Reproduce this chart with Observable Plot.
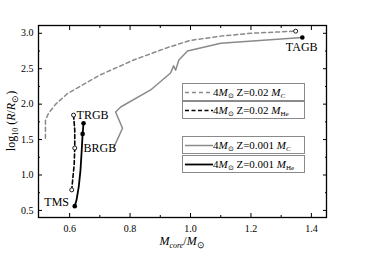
<!DOCTYPE html>
<html><head><meta charset="utf-8">
<script src="https://cdn.jsdelivr.net/npm/d3@7"></script>
<script src="https://cdn.jsdelivr.net/npm/@observablehq/plot@0.6"></script>
<style>
body{margin:0;background:#fff}
#wrap{position:relative;width:384px;height:256px;font-family:"Liberation Serif","Times New Roman",serif;color:#000}
#wrap svg text{font-family:"Liberation Serif","Times New Roman",serif !important}
.lg{position:absolute;left:182px;width:121px;height:16px;border:1px solid #8a8a8a;background:#fff;font-size:11px;line-height:16px;white-space:nowrap}
.lg svg{position:absolute;left:2px;top:0}
.lg span.t{position:absolute;left:30px;top:0}
.lg sub{font-size:7px;vertical-align:-2px;line-height:0}
</style></head>
<body><div id="wrap"></div>
<script>
// Z=0.02, carbon-oxygen core mass (gray dashed)
const z02cMass = [0.520,0.520,0.530,0.554,0.593,0.700,0.810,0.925,1.000,1.100,1.200,1.348];
const z02cLogR = [1.52,1.77,1.87,2.00,2.15,2.41,2.62,2.80,2.90,2.96,3.00,3.03];
// Z=0.02, helium core mass (black dashed)
const z02hMass = [0.613,0.617,0.617,0.615,0.610,0.607];
const z02hLogR = [1.845,1.63,1.38,1.14,0.93,0.79];
// Z=0.001, carbon-oxygen core mass (gray solid)
const z001cMass = [0.745,0.775,0.752,0.769,0.868,0.934,0.944,0.951,0.961,0.990,1.100,1.370];
const z001cLogR = [1.38,1.66,1.89,1.96,2.20,2.44,2.54,2.48,2.62,2.75,2.86,2.94];
// Z=0.001, helium core mass (black solid)
const z001hMass = [0.617,0.623,0.630,0.636,0.640,0.643,0.646];
const z001hLogR = [0.56,0.65,0.83,1.07,1.35,1.58,1.73];
// marked evolutionary points
const openMass = [0.613,0.617,0.607,1.348];
const openLogR = [1.845,1.38,0.79,3.03];
const filledMass = [0.646,0.643,0.617,1.370];
const filledLogR = [1.73,1.58,0.56,2.94];
// stage labels
const stageNames = ["TRGB","BRGB","TMS","TAGB"];
const stageMass = [0.623,0.646,0.598,1.368];
const stageLogR = [1.845,1.38,0.62,2.80];
// ticks
const xMajor = [0.6,0.8,1.0,1.2,1.4];
const xMinor = [0.7,0.9,1.1,1.3];
const yMajor = [0.5,1.0,1.5,2.0,2.5,3.0];
const yMinor = [0.75,1.25,1.75,2.25,2.75];
// legend
const legendLabels = [["0.02","C"],["0.02","He"],["0.001","C"],["0.001","He"]];

const tbl = (m, r) => m.map((v, i) => ({m: v, r: r[i]}));
const z02c = tbl(z02cMass, z02cLogR), z02h = tbl(z02hMass, z02hLogR);
const z001c = tbl(z001cMass, z001cLogR), z001h = tbl(z001hMass, z001hLogR);
const opens = tbl(openMass, openLogR), filled = tbl(filledMass, filledLogR);
const stages = stageNames.map((n, i) => ({n, m: stageMass[i], r: stageLogR[i]}));

const GRAY = "#8a8a8a";
const SERIF = "'Liberation Serif', 'Times New Roman', serif";
const chart = Plot.plot({
  width: 384, height: 256,
  marginLeft: 38, marginRight: 58, marginTop: 25, marginBottom: 39,
  style: {fontFamily: SERIF, fontSize: "10px", background: "white", color: "black", overflow: "visible"},
  x: {domain: [0.497, 1.45], label: null},
  y: {domain: [0.40, 3.11], label: null},
  marks: [
    Plot.line(z02c, {x: "m", y: "r", stroke: GRAY, strokeWidth: 1.5, strokeDasharray: "4,3"}),
    Plot.line(z001c, {x: "m", y: "r", stroke: GRAY, strokeWidth: 1.5}),
    Plot.line(z02h, {x: "m", y: "r", stroke: "black", strokeWidth: 1.6, strokeDasharray: "4,2.5"}),
    Plot.line(z001h, {x: "m", y: "r", stroke: "black", strokeWidth: 1.8}),
    Plot.dot(opens, {x: "m", y: "r", r: 2, stroke: "black", strokeWidth: 0.9, fill: "white"}),
    Plot.dot(filled, {x: "m", y: "r", r: 2.3, fill: "black"}),
    Plot.text(stages.filter(d => d.n !== "TMS" && d.n !== "TAGB"), {x: "m", y: "r", text: "n", textAnchor: "start", fontSize: 12, fontFamily: SERIF}),
    Plot.text(stages.filter(d => d.n === "TMS"), {x: "m", y: "r", text: "n", textAnchor: "end", fontSize: 12, fontFamily: SERIF}),
    Plot.text(stages.filter(d => d.n === "TAGB"), {x: "m", y: "r", text: "n", textAnchor: "middle", fontSize: 12, fontFamily: SERIF}),
    Plot.axisX(xMajor, {anchor: "bottom", tickSize: 0, tickPadding: 7, tickFormat: d3.format(".1f"), label: null, fontFamily: SERIF}),
    Plot.axisY(yMajor, {anchor: "left", tickSize: 0, tickPadding: 5, tickFormat: d3.format(".1f"), label: null, fontFamily: SERIF}),
    Plot.axisX(xMajor, {anchor: "bottom", tickSize: -4, text: null, label: null}),
    Plot.axisX(xMajor, {anchor: "top", tickSize: -4, text: null, label: null}),
    Plot.axisX(xMinor, {anchor: "bottom", tickSize: -2, text: null, label: null}),
    Plot.axisX(xMinor, {anchor: "top", tickSize: -2, text: null, label: null}),
    Plot.axisY(yMajor, {anchor: "left", tickSize: -4, text: null, label: null}),
    Plot.axisY(yMajor, {anchor: "right", tickSize: -4, text: null, label: null}),
    Plot.axisY(yMinor, {anchor: "left", tickSize: -2, text: null, label: null}),
    Plot.axisY(yMinor, {anchor: "right", tickSize: -2, text: null, label: null}),
    Plot.frame({stroke: "black", strokeWidth: 1.3})
  ]
});
const wrap = document.getElementById("wrap");
wrap.appendChild(chart);
const svg = d3.select(chart);
svg.style("font-family", SERIF);
// y-axis title
const yt = svg.append("text").attr("transform", "translate(15,121) rotate(-90)")
  .attr("text-anchor", "middle").attr("font-size", 12).attr("fill", "black");
yt.append("tspan").text("log");
yt.append("tspan").attr("font-size", 8).attr("dy", 3).text("10");
yt.append("tspan").attr("dy", -3).text(" (");
yt.append("tspan").attr("font-style", "italic").text("R");
yt.append("tspan").text("/");
yt.append("tspan").attr("font-style", "italic").text("R");
yt.append("tspan").attr("font-size", 9).attr("dy", 3).text("⊙");
yt.append("tspan").attr("dy", -3).text(")");
// x-axis title
const xt = svg.append("text").attr("transform", "translate(182,245)")
  .attr("text-anchor", "middle").attr("font-size", 12).attr("fill", "black");
xt.append("tspan").attr("font-style", "italic").text("M");
xt.append("tspan").attr("font-style", "italic").attr("font-size", 8).attr("dy", 3).text("core");
xt.append("tspan").attr("dy", -3).text("/");
xt.append("tspan").attr("font-style", "italic").text("M");
xt.append("tspan").attr("font-size", 9).attr("dy", 3).text("⊙");

// legend
const legendTops = [83, 101, 136, 155];
const legendStroke = [
  {c: GRAY, w: 1.5, d: "4,3"}, {c: "black", w: 1.6, d: "4,2.5"},
  {c: GRAY, w: 1.5, d: null}, {c: "black", w: 1.8, d: null}
];
legendLabels.forEach(([z, s], i) => {
  const box = document.createElement("div");
  box.className = "lg";
  box.style.top = legendTops[i] + "px";
  const st = legendStroke[i];
  box.innerHTML = `<svg width="28" height="16"><line x1="0" x2="28" y1="8.5" y2="8.5" stroke="${st.c}" stroke-width="${st.w}" ${st.d ? `stroke-dasharray="${st.d}"` : ""}/></svg>` +
    `<span class="t">4<i>M</i><sub>⊙</sub> Z=${z} <i>M</i><sub>${s === "C" ? "<i>C</i>" : s}</sub></span>`;
  wrap.appendChild(box);
});
</script></body></html>
